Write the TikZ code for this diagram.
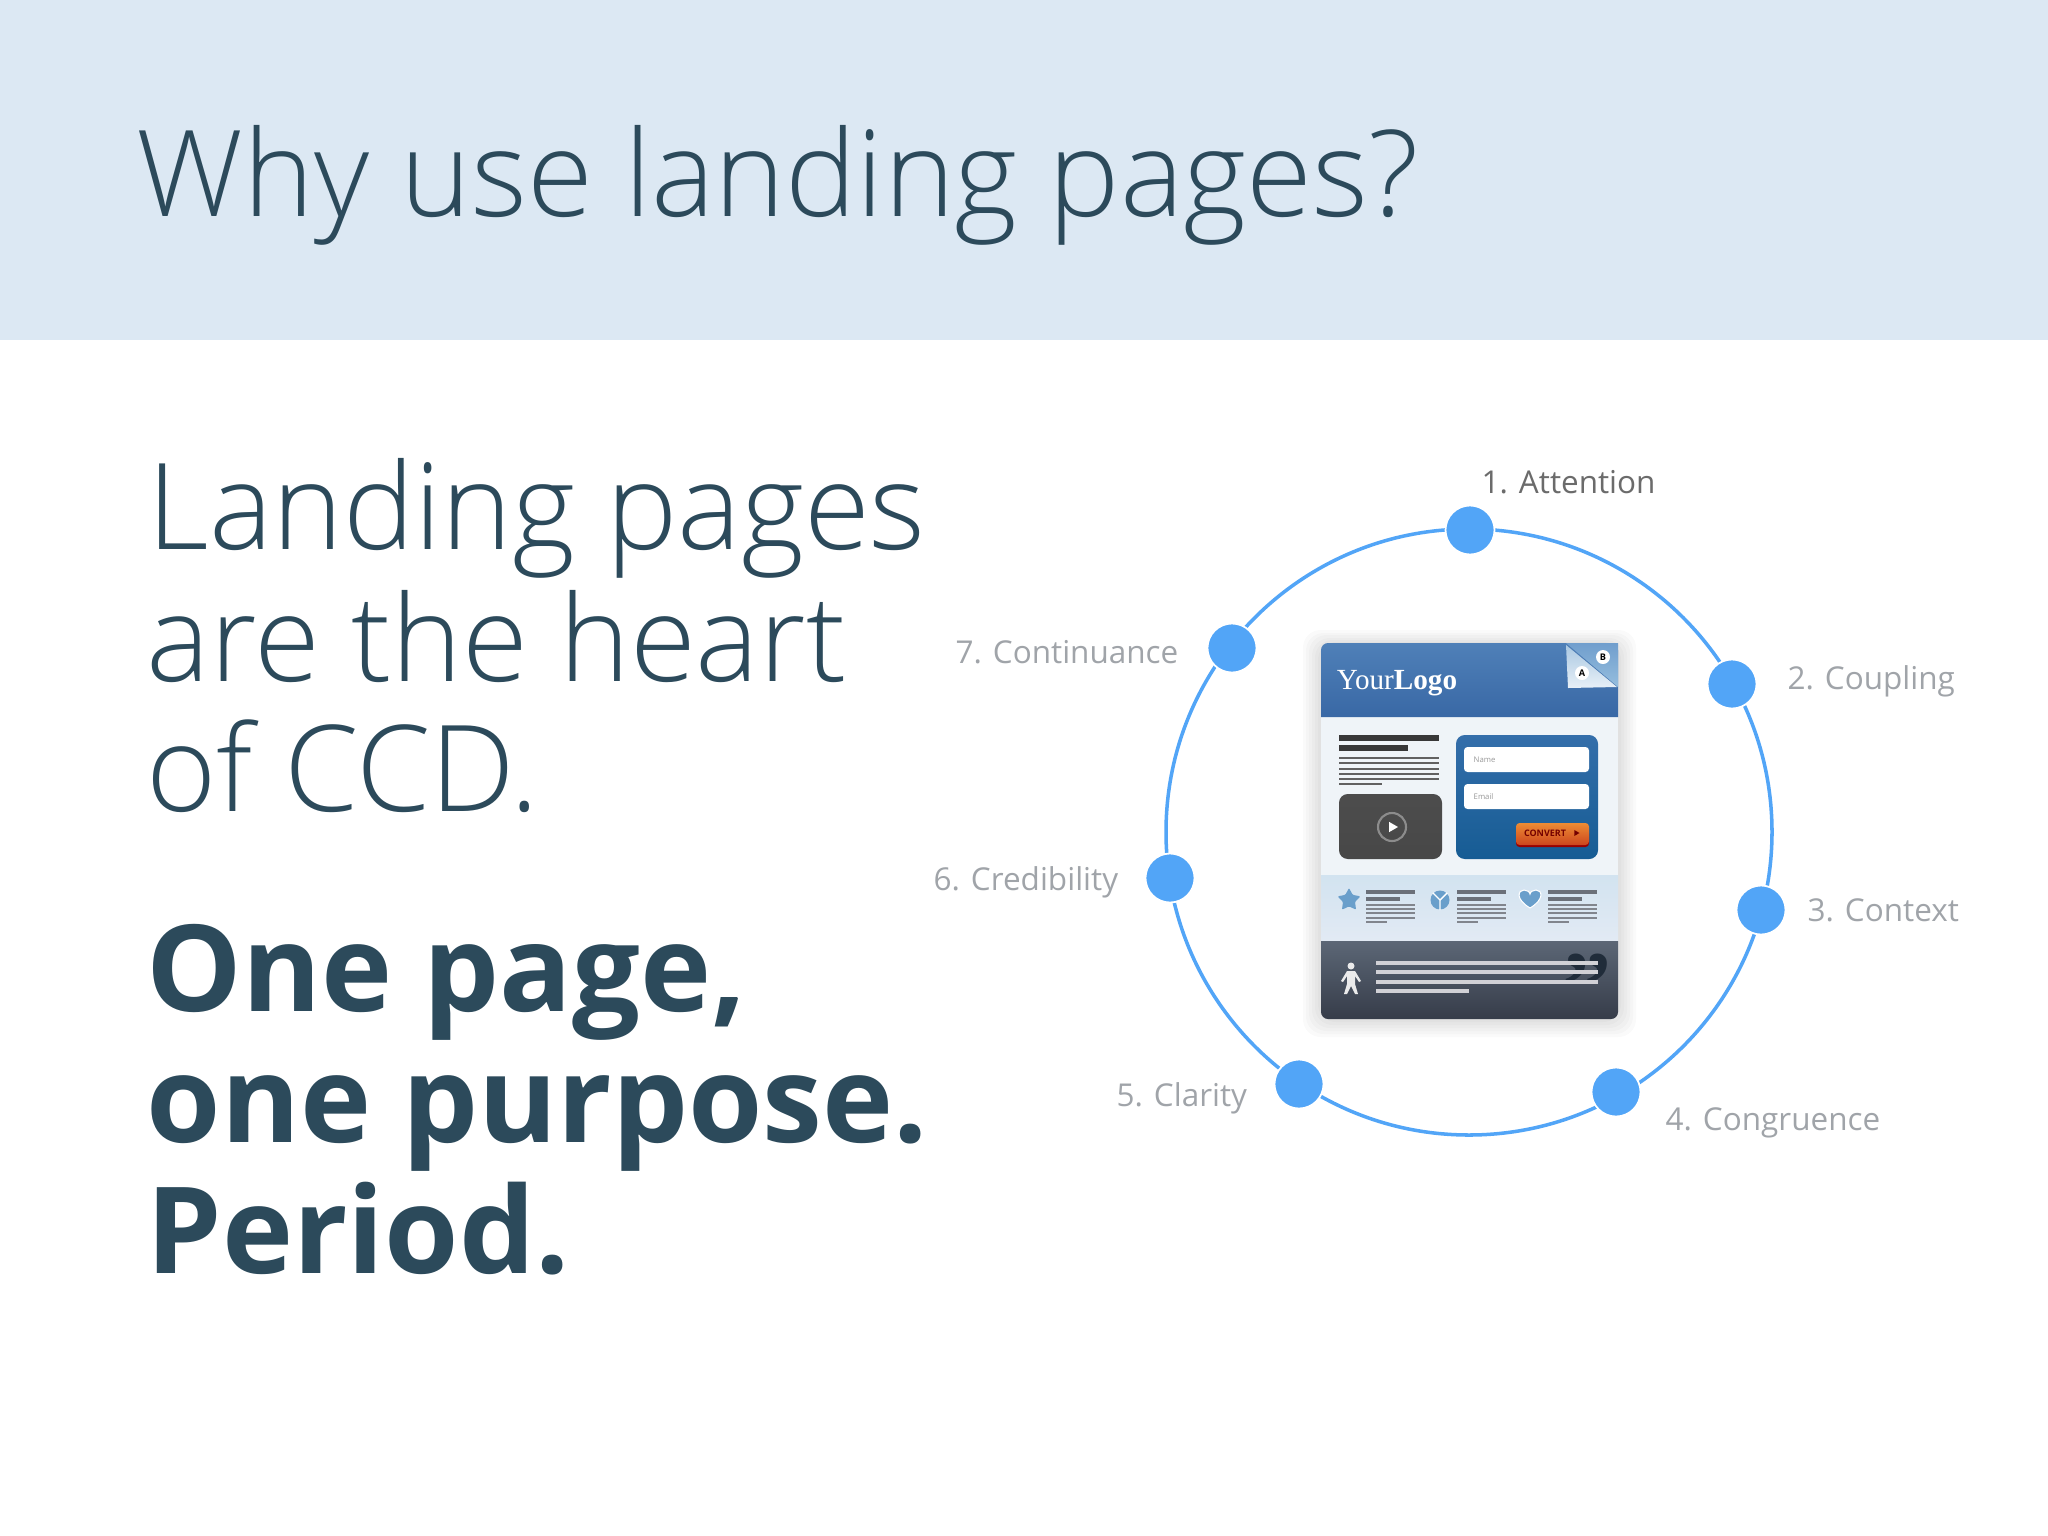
\documentclass[tikz,border=0pt]{standalone}
\usepackage{fontspec}
\setmainfont{Open Sans}
\newfontfamily\lightfont{Open Sans Light}
\newfontfamily\logofont{Liberation Serif}
\usepackage{tikz}
\usetikzlibrary{shapes.geometric}
\definecolor{slate}{HTML}{2C4A5B}
\definecolor{titleband}{HTML}{DCE8F3}
\definecolor{ringblue}{HTML}{52A5F7}
\definecolor{labelgrey}{HTML}{A0A4A9}
\definecolor{barbase}{HTML}{6B7079}
\definecolor{iconblue}{HTML}{6A9FCB}
\definecolor{paperwhite}{HTML}{EFF4F8}
\tikzset{
	bigtext/.style={anchor=base west, inner sep=0pt, text=slate, font=\lightfont\fontsize{34.1}{34}\selectfont},
	boldtext/.style={anchor=base west, inner sep=0pt, text=slate, font=\bfseries\fontsize{34.2}{34}\selectfont},
	steplabel/.style={anchor=base west, inner sep=0pt, text=labelgrey, font=\fontsize{8.95}{10}\selectfont},
	stepdot/.style={circle, fill=ringblue, draw=white, line width=0.5pt, minimum size=49*0.01cm, inner sep=0pt},
	thickbar/.style={line width=1.1pt, draw=barbase},
	thinbar/.style={line width=0.5pt, draw=barbase!85},
	darkbar/.style={line width=1.8pt, draw=black!78},
	paleline/.style={line width=0.95pt, draw=blue!10!black!18!white},
	fieldbox/.style={fill=white, rounded corners=1pt},
	shadowbox/.style={fill=black, opacity=0.018, rounded corners=5pt}
}
\begin{document}
\begin{tikzpicture}[x=0.01cm,y=-0.01cm]
	\useasboundingbox (0,0) rectangle (2048,1536);
	\fill[white] (0,0) rectangle (2048,1536);
	\fill[titleband] (0,0) rectangle (2048,340);
	\node[bigtext] (title) at (136,216) {Why use landing pages?};
	% left column
	\node[bigtext] (heartone) at (147,549) {Landing pages};
	\node[bigtext] (hearttwo) at (146,681) {are the heart};
	\node[bigtext] (heartthree) at (146,811) {of CCD.};
	\node[boldtext] (pageone) at (146,1011) {One page,};
	\node[boldtext] (pagetwo) at (146,1142) {one purpose.};
	\node[boldtext] (pagethree) at (146,1273) {Period.};
	% ring with the seven steps
	\node[circle, draw=ringblue, line width=1pt, minimum size=606*0.01cm, inner sep=0pt] (ring) at (1469,832) {};
	\node[stepdot] (attention) at (1470,530) {};
	\node[stepdot] (coupling) at (1732,684) {};
	\node[stepdot] (context) at (1761,910) {};
	\node[stepdot] (congruence) at (1616,1092) {};
	\node[stepdot] (clarity) at (1299,1084) {};
	\node[stepdot] (credibility) at (1170,878) {};
	\node[stepdot] (continuance) at (1232,648) {};
	\node[steplabel, text=black!58] (attentionlabel) at (1481,493) {1. Attention};
	\node[steplabel] (couplinglabel) at (1787,689) {2. Coupling};
	\node[steplabel] (contextlabel) at (1807,921) {3. Context};
	\node[steplabel] (congruencelabel) at (1665,1130) {4. Congruence};
	\node[steplabel] (claritylabel) at (1116,1106) {5. Clarity};
	\node[steplabel] (credibilitylabel) at (933,890) {6. Credibility};
	\node[steplabel] (continuancelabel) at (955,663) {7. Continuance};
	% landing page mock-up
	\fill[shadowbox] (1303,630) rectangle (1636,1037);
	\fill[shadowbox] (1306,633) rectangle (1633,1034);
	\fill[shadowbox] (1309,635) rectangle (1630,1031);
	\fill[shadowbox] (1312,638) rectangle (1627,1028);
	\fill[shadowbox] (1315,640) rectangle (1624,1025);
	\fill[shadowbox] (1318,642) rectangle (1621,1022);
	\fill[paperwhite] (1321,717) rectangle (1618,875);
	\path[top color={rgb,255:red,79;green,128;blue,184}, bottom color={rgb,255:red,57;green,104;blue,165}, rounded corners=2pt] (1321,717) -- (1321,643) -- (1618,643) [sharp corners] -- (1618,717) -- cycle;
	\node[inner sep=0pt, text=white, font=\logofont\fontsize{8.3}{9}\selectfont] (logo) at (1397,683) {Your\textbf{Logo}};
	\path[top color={rgb,255:red,112;green,158;blue,205}, bottom color={rgb,255:red,150;green,190;blue,222}] (1566,643) -- (1618,643) -- (1618,687) -- cycle;
	\path[top color={rgb,255:red,170;green,200;blue,226}, bottom color={rgb,255:red,232;green,240;blue,247}] (1566,645) -- (1617,687) -- (1568,688) -- cycle;
	\node[circle, fill=white, inner sep=0pt, minimum size=14*0.01cm, font=\bfseries\fontsize{2.6}{3}\selectfont] (sidea) at (1582,673) {A};
	\node[circle, fill=white, inner sep=0pt, minimum size=14*0.01cm, font=\bfseries\fontsize{2.6}{3}\selectfont] (sideb) at (1603,657) {B};
	% body: copy and video
	\draw[darkbar] (1339,738)--(1439,738) (1339,748)--(1408,748);
	\draw[line width=0.5pt, draw=black!62] (1339,758)--(1439,758) (1339,763)--(1439,763) (1339,769)--(1439,769) (1339,774)--(1439,774) (1339,779)--(1439,779) (1339,784)--(1382,784);
	\path[rounded corners=2.5pt, top color=black!70, bottom color=black!72] (1339,794) rectangle (1442,859);
	\node[circle, draw=black!45, line width=0.6pt, inner sep=0pt, minimum size=28*0.01cm] (playring) at (1392,827) {};
	\node[regular polygon, regular polygon sides=3, shape border rotate=-90, fill=white, inner sep=0pt, minimum size=12*0.01cm] (playicon) at (1392,827) {};
	% body: form
	\path[rounded corners=2.5pt, top color={rgb,255:red,52;green,110;blue,170}, bottom color={rgb,255:red,22;green,92;blue,148}] (1456,735) rectangle (1598,859);
	\path[fieldbox] (1464,747) rectangle (1589,772);
	\path[fieldbox] (1464,784) rectangle (1589,809);
	\node[anchor=west, inner sep=0pt, text=black!40, font=\fontsize{2.2}{3}\selectfont] (namefield) at (1473,760) {Name};
	\node[anchor=west, inner sep=0pt, text=black!40, font=\fontsize{2.2}{3}\selectfont] (emailfield) at (1473,797) {Email};
	\fill[red!60!black, rounded corners=1pt] (1516,830) rectangle (1589,847);
	\path[rounded corners=1pt, top color={rgb,255:red,236;green,140;blue,52}, bottom color={rgb,255:red,205;green,70;blue,30}] (1516,823) rectangle (1589,845);
	\node[inner sep=0pt, text=red!45!black, font=\bfseries\fontsize{2.55}{3}\selectfont] (convert) at (1545,833) {CONVERT};
	\node[regular polygon, regular polygon sides=3, shape border rotate=-90, fill=red!45!black, inner sep=0pt, minimum size=7*0.01cm] (converticon) at (1576,833) {};
	% feature band
	\path[top color={rgb,255:red,210;green,227;blue,240}, bottom color={rgb,255:red,226;green,234;blue,244}] (1321,875) rectangle (1618,941);
	\node[star, star points=5, star point ratio=1.9, fill=iconblue, rounded corners=0.3pt, inner sep=0pt, minimum size=24*0.01cm] (staricon) at (1349,900) {};
	\node[circle, fill=iconblue, inner sep=0pt, minimum size=19*0.01cm] (cubeicon) at (1440,900) {};
	\draw[white, line width=0.4pt] (cubeicon.center) -- (cubeicon.south) (cubeicon.center) -- (cubeicon.north west) (cubeicon.center) -- (cubeicon.north east);
	\fill[iconblue, draw=white, line width=0.3pt] (1530,908) .. controls (1515,899) and (1518,890) .. (1524,890) .. controls (1527,890) and (1530,892) .. (1530,894) .. controls (1530,892) and (1533,890) .. (1536,890) .. controls (1542,890) and (1545,899) .. (1530,908) -- cycle;
	\draw[thickbar] (1366,892)--(1415,892) (1366,899)--(1400,899) (1457,892)--(1506,892) (1457,899)--(1491,899) (1548,892)--(1597,892) (1548,899)--(1582,899);
	\draw[thinbar] (1366,905)--(1415,905) (1366,909)--(1415,909) (1366,913)--(1415,913) (1366,918)--(1415,918) (1366,922)--(1387,922);
	\draw[thinbar] (1457,905)--(1506,905) (1457,909)--(1506,909) (1457,913)--(1506,913) (1457,918)--(1506,918) (1457,922)--(1478,922);
	\draw[thinbar] (1548,905)--(1597,905) (1548,909)--(1597,909) (1548,913)--(1597,913) (1548,918)--(1597,918) (1548,922)--(1569,922);
	% testimonial band
	\path[top color={rgb,255:red,92;green,103;blue,118}, bottom color={rgb,255:red,54;green,60;blue,73}, rounded corners=2pt] (1321,941) [sharp corners] -- (1618,941) [rounded corners=2pt] -- (1618,1019) -- (1321,1019) [sharp corners] -- cycle;
	\node[inner sep=0pt, text={rgb,255:red,32;green,44;blue,58}, font=\logofont\bfseries\fontsize{28}{28}\selectfont, anchor=north] (quotemark) at (1587,953) {”};
	\draw[paleline] (1376,963)--(1598,963) (1376,972)--(1598,972) (1376,982)--(1598,982) (1376,991)--(1469,991);
	\node[circle, fill=black!8, inner sep=0pt, minimum size=7*0.01cm] (personhead) at (1351,966) {};
	\fill[black!8] (1347,971) -- (1355,971) -- (1361,981) -- (1359,982) -- (1355,976) -- (1355,984) -- (1358,994) -- (1355,994) -- (1351,986) -- (1347,994) -- (1344,994) -- (1347,984) -- (1347,976) -- (1343,982) -- (1341,981) -- cycle;
\end{tikzpicture}
\end{document}
